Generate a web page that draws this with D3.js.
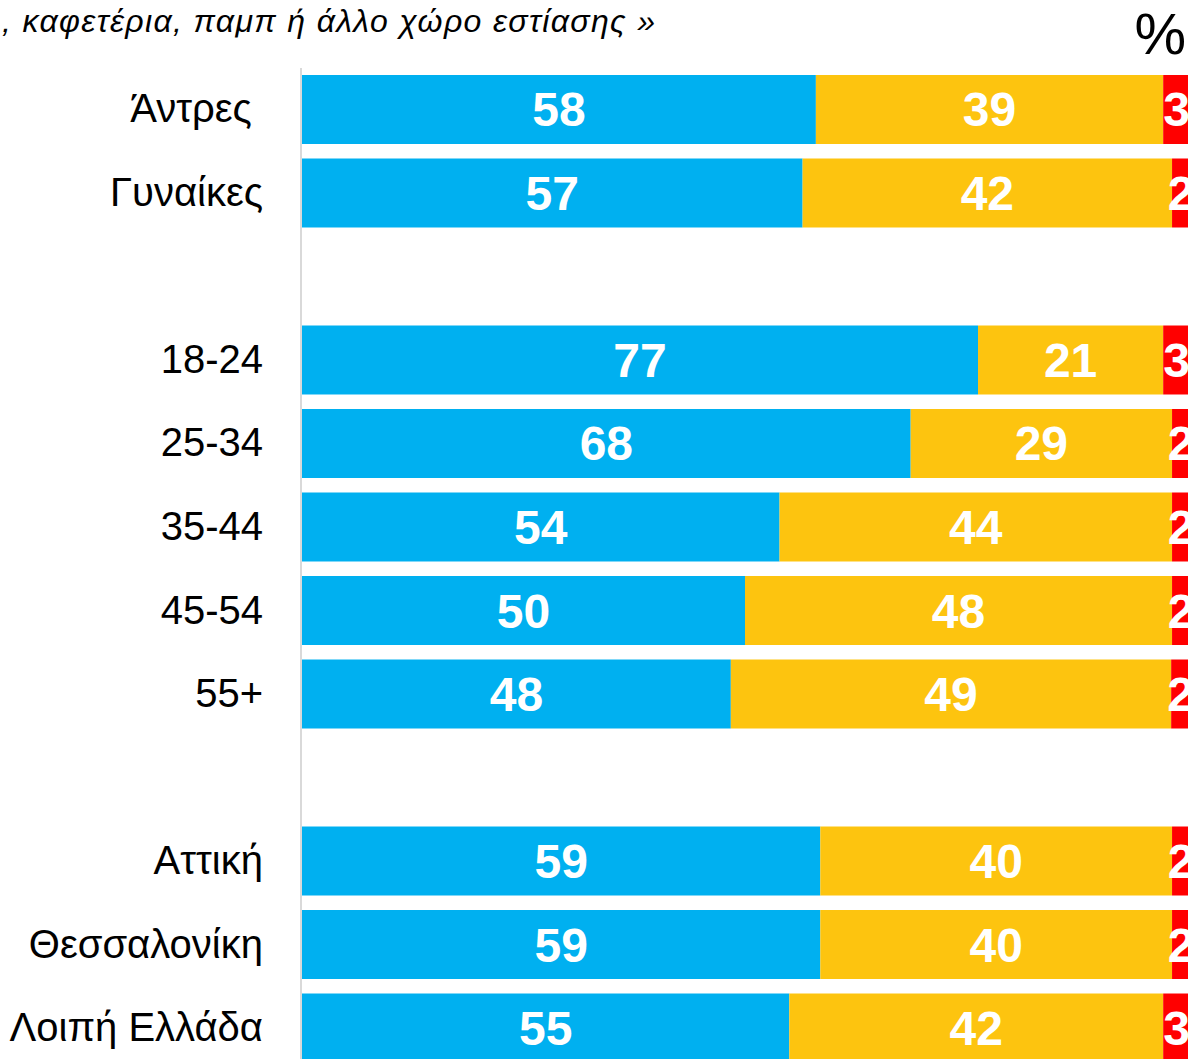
<!DOCTYPE html>
<html>
<head>
<meta charset="utf-8">
<script src="https://cdn.jsdelivr.net/npm/d3@7/dist/d3.min.js"></script>
<style>
  html, body { margin: 0; padding: 0; background: #fff; }
  svg { display: block; }
</style>
</head>
<body>
<svg id="chart" width="1199" height="1059"></svg>
<script>
// ---- data ----
const categories = ["Άντρες\u00a0", "Γυναίκες", "", "18-24", "25-34", "35-44", "45-54", "55+", "", "Αττική", "Θεσσαλονίκη", "Λοιπή Ελλάδα"];
// estimated shares (bar lengths)
const blueShare   = [58.0, 56.5, null, 76.3, 68.7, 53.9, 50.0, 48.4, null, 58.5, 58.5, 55.0];
const yellowShare = [39.2, 41.7, null, 20.9, 29.5, 44.3, 48.2, 49.7, null, 39.7, 39.7, 42.2];
const redShare    = [2.8, 1.8, null, 2.8, 1.8, 1.8, 1.8, 1.9, null, 1.8, 1.8, 2.8];
// displayed labels
const blueLabels   = [58, 57, null, 77, 68, 54, 50, 48, null, 59, 59, 55];
const yellowLabels = [39, 42, null, 21, 29, 44, 48, 49, null, 40, 40, 42];
const redLabels    = [3, 2, null, 3, 2, 2, 2, 2, null, 2, 2, 3];
const titleText = ", καφετέρια, παμπ ή άλλο χώρο εστίασης »";
const unitText = "%";

const seriesColors = ["#00B0F0", "#FDC40F", "#FF0000"];

// ---- layout ----
const svg = d3.select("#chart");
const W = 1199, H = 1059;

const x = d3.scaleLinear().domain([0, 100]).range([302, 1188]);
const y = d3.scaleBand().domain(d3.range(categories.length)).range([75, 1062.5]).paddingInner(0.1737).paddingOuter(0);

svg.append("defs").append("clipPath").attr("id", "clip")
  .append("rect").attr("x", 0).attr("y", 0).attr("width", 1190).attr("height", H);

const g = svg.append("g").attr("clip-path", "url(#clip)");

// title
g.append("text")
  .attr("x", 2).attr("y", 32)
  .attr("textLength", 653)
  .attr("lengthAdjust", "spacing")
  .style("font-family", "'Liberation Sans', Arial, sans-serif")
  .style("font-style", "italic")
  .style("font-size", "32px")
  .attr("fill", "#000")
  .text(titleText);

g.append("text")
  .attr("x", 1186).attr("y", 54)
  .attr("text-anchor", "end")
  .style("font-family", "'Liberation Sans', Arial, sans-serif")
  .style("font-size", "58px")
  .attr("fill", "#000")
  .text(unitText);

// axis line
g.append("line")
  .attr("x1", 301).attr("x2", 301)
  .attr("y1", 68).attr("y2", H)
  .attr("stroke", "#d9d9d9").attr("stroke-width", 2);

const rows = categories.map((c, i) => ({
  i, cat: c,
  vals: [blueShare[i], yellowShare[i], redShare[i]],
  labs: [blueLabels[i], yellowLabels[i], redLabels[i]]
}));

// category labels
g.selectAll("text.cat").data(rows.filter(r => r.cat !== "")).enter()
  .append("text").attr("class", "cat")
  .attr("x", 263)
  .attr("y", d => y(d.i) + y.bandwidth() / 2 + 13)
  .attr("text-anchor", "end")
  .style("font-family", "'Liberation Sans', Arial, sans-serif")
  .style("font-size", "40px")
  .attr("fill", "#000")
  .style("white-space", "pre")
  .text(d => d.cat);

// bars
rows.filter(r => r.vals[0] !== null).forEach(r => {
  let acc = 0;
  r.vals.forEach((v, k) => {
    const x0 = x(acc), x1 = x(acc + v);
    acc += v;
    g.append("rect")
      .attr("x", x0).attr("y", y(r.i))
      .attr("width", x1 - x0).attr("height", y.bandwidth())
      .attr("fill", seriesColors[k]);
    g.append("text")
      .attr("x", (x0 + x1) / 2 + (k === 2 ? 1 : 0))
      .attr("y", y(r.i) + y.bandwidth() / 2 + 17)
      .attr("text-anchor", "middle")
      .style("font-family", "'Liberation Sans', Arial, sans-serif")
      .style("font-weight", "bold")
      .style("font-size", "48px")
      .attr("fill", "#fff")
      .text(r.labs[k]);
  });
});
</script>
</body>
</html>
